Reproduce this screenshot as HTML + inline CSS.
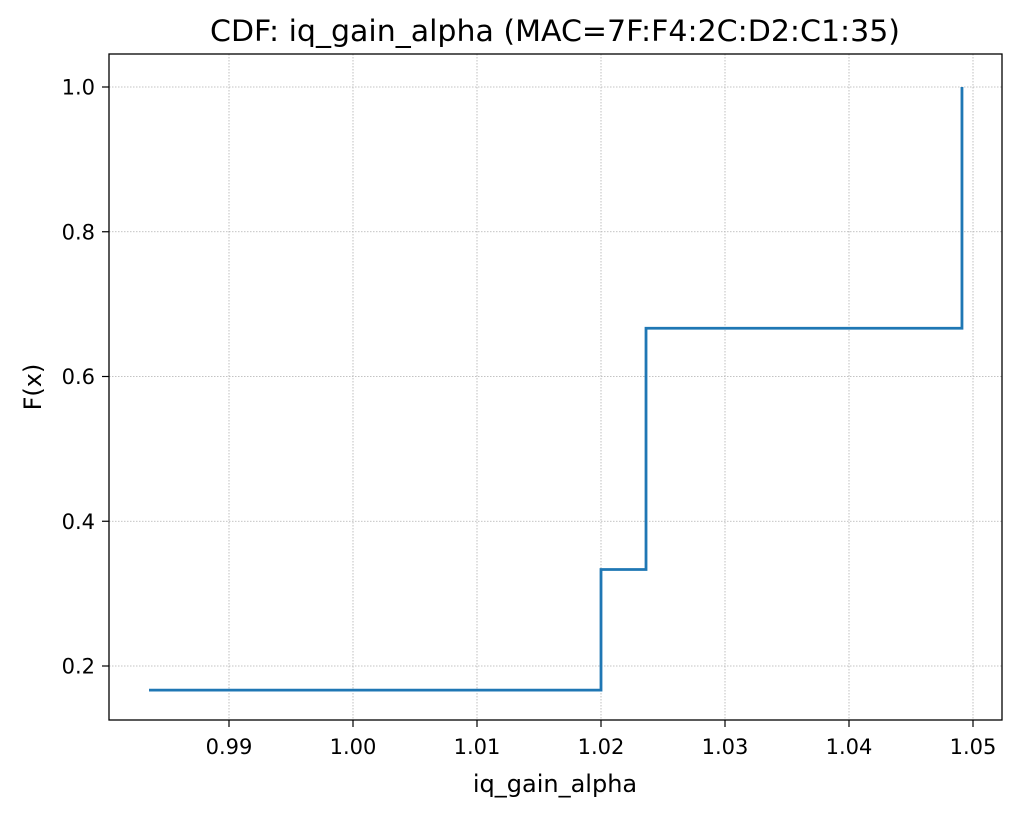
<!DOCTYPE html>
<html><head><meta charset="utf-8">
<style>
body{margin:0;background:#fff;}
svg text{font-family:"DejaVu Sans","Liberation Sans",sans-serif;fill:#000;}
</style></head>
<body>
<svg id="chart" width="1020" height="815" viewBox="0 0 1020 815" xmlns="http://www.w3.org/2000/svg">
<rect width="1020" height="815" fill="#fff"/>
<g id="grid"></g>
<g id="xticks"></g>
<g id="yticks"></g>
<path id="line" fill="none" stroke="#1f77b4" stroke-width="2.8"/>
<rect x="109" y="54" width="893" height="666" fill="none" stroke="#000" stroke-width="1.3"/>
<text x="555" y="41" text-anchor="middle" font-size="29" textLength="690" lengthAdjust="spacingAndGlyphs">CDF: iq_gain_alpha (MAC=7F:F4:2C:D2:C1:35)</text>
<text x="555" y="792" text-anchor="middle" font-size="24">iq_gain_alpha</text>
<text x="41" y="387" text-anchor="middle" font-size="24" transform="rotate(-90 41 387)">F(x)</text>
</svg>
<script>
const xValues=[0.98355,1.0200,1.02363,1.04911];
const yValues=[1/6,2/6,4/6,1.0];
const xTickValues=[0.99,1.00,1.01,1.02,1.03,1.04,1.05];
const xTickLabels=["0.99","1.00","1.01","1.02","1.03","1.04","1.05"];
const yTickValues=[0.2,0.4,0.6,0.8,1.0];
const yTickLabels=["0.2","0.4","0.6","0.8","1.0"];
const NS="http://www.w3.org/2000/svg";
function sx(v){return 353+(v-1.00)*12400;}
function sy(v){return 666-(v-0.2)*723.75;}
function mk(tag,attrs,parent){const e=document.createElementNS(NS,tag);for(const k in attrs)e.setAttribute(k,attrs[k]);parent.appendChild(e);return e;}
const grid=document.getElementById('grid'),xt=document.getElementById('xticks'),yt=document.getElementById('yticks');
xTickValues.forEach((v,i)=>{const x=sx(v);
 const g=mk('line',{x1:x,x2:x,y1:54,y2:720,stroke:'#b0b0b0','stroke-width':0.8,'stroke-dasharray':'1.5,1.5'},grid);
 
 
 const t=mk('line',{x1:x,x2:x,y1:720,y2:727,stroke:'#000','stroke-width':1.2},xt);
 
 
 const l=mk('text',{x:x,y:754,'text-anchor':'middle','font-size':21},xt);l.textContent=xTickLabels[i];
 
 
});
yTickValues.forEach((v,i)=>{const y=sy(v);
 const g=mk('line',{x1:109,x2:1002,y1:y,y2:y,stroke:'#b0b0b0','stroke-width':0.8,'stroke-dasharray':'1.5,1.5'},grid);
 
 
 const t=mk('line',{x1:102,x2:109,y1:y,y2:y,stroke:'#000','stroke-width':1.2},yt);
 
 
 const l=mk('text',{x:95,y:y+7.5,'text-anchor':'end','font-size':21},yt);l.textContent=yTickLabels[i];
 
 
});
let d='M'+sx(xValues[0])+','+sy(yValues[0]);
for(let i=1;i<xValues.length;i++){d+=' L'+sx(xValues[i])+','+sy(yValues[i-1])+' L'+sx(xValues[i])+','+sy(yValues[i]);}
document.getElementById('line').setAttribute('d',d);
</script>
</body></html>
